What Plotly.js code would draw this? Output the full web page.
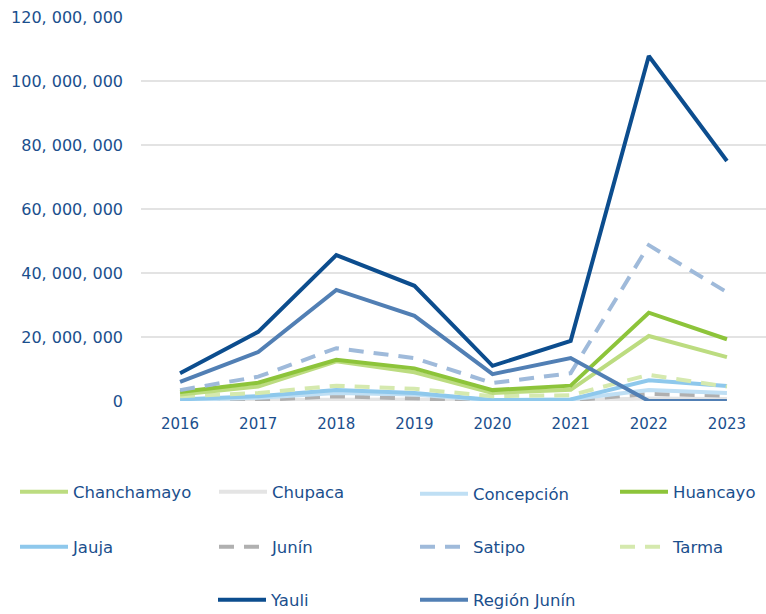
<!DOCTYPE html>
<html>
<head>
<meta charset="utf-8">
<script src="https://cdn.plot.ly/plotly-3.0.1.min.js"></script>
<style>html,body{margin:0;padding:0;background:#fff;}#chart{width:766px;height:614px;}</style>
</head>
<body>
<div id="chart"></div>
<script>
const years = ["2016","2017","2018","2019","2020","2021","2022","2023"];
const chanchamayo = [2000000, 4500000, 12400000, 9000000, 2500000, 3500000, 20300000, 13700000];
const chupaca     = [200000, 300000, 600000, 500000, 100000, 200000, 800000, 600000];
const concepcion  = [300000, 1000000, 2500000, 2000000, 200000, 500000, 3400000, 2500000];
const huancayo    = [2800000, 5700000, 12900000, 10200000, 3400000, 4800000, 27600000, 19300000];
const jauja       = [500000, 1500000, 3400000, 2500000, 300000, 500000, 6500000, 4700000];
const junin       = [200000, 300000, 1500000, 800000, 100000, 200000, 2200000, 1700000];
const satipo      = [3400000, 7600000, 16500000, 13400000, 5600000, 8700000, 48700000, 34000000];
const tarma       = [1500000, 2500000, 4800000, 3800000, 1500000, 1800000, 8200000, 4500000];
const yauli       = [8700000, 21600000, 45600000, 36000000, 11000000, 18800000, 107800000, 75000000];
const regionJunin = [6000000, 15300000, 34700000, 26600000, 8400000, 13400000, 0, 0];

const seriesNames = ["Chanchamayo","Chupaca","Concepción","Huancayo","Jauja","Junín","Satipo","Tarma","Yauli","Región Junín"];
const seriesData = [chanchamayo, chupaca, concepcion, huancayo, jauja, junin, satipo, tarma, yauli, regionJunin];
const yTickVals = [0, 20000000, 40000000, 60000000, 80000000, 100000000, 120000000];
const yTickText = ["0", "20, 000, 000", "40, 000, 000", "60, 000, 000", "80, 000, 000", "100, 000, 000", "120, 000, 000"];

const styles = [
  {color:"#bcdc80", dash:"solid"},
  {color:"#e4e4e4", dash:"solid"},
  {color:"#bfdff4", dash:"solid"},
  {color:"#8dc43a", dash:"solid"},
  {color:"#8ec8ec", dash:"solid"},
  {color:"#b0b0b0", dash:"15px,10px"},
  {color:"#9fbada", dash:"15px,10px"},
  {color:"#d5e9ae", dash:"15px,10px"},
  {color:"#0c4d8e", dash:"solid"},
  {color:"#517fb4", dash:"solid"}
];
// legend slot (line start x, row centre y) in pixels
const legendPos = [
  [20,492],[219,492],[420,494],[620,492],
  [20,547],[219,547],[420,547],[620,547],
  [218,600],[420,600]
];
const legendId = i => i === 0 ? "legend" : "legend" + (i + 1);
const drawOrder = [1,5,2,4,7,0,3,6,9,8];
const traces = [];
drawOrder.forEach(i => {
  traces.push({
    x: years, y: seriesData[i], name: seriesNames[i], type: "scatter", mode: "lines",
    line: {color: styles[i].color, width: 4, dash: styles[i].dash},
    legend: legendId(i), hoverinfo: "skip", cliponaxis: false
  });
});

const txt = "#1b4f8d";
const layout = {
  width: 766, height: 614,
  margin: {l: 141, r: 0, t: 17, b: 213, autoexpand: false},
  paper_bgcolor: "#fff", plot_bgcolor: "#fff",
  font: {family: "DejaVu Sans", size: 15, color: txt},
  showlegend: true,
  xaxis: {type: "category", range: [-0.5, 7.5], showgrid: false, zeroline: false, showline: false,
          automargin: false,
          ticks: "", ticklabelstandoff: 12, tickfont: {size: 15, color: txt}, fixedrange: true},
  yaxis: {range: [0, 120000000], tickvals: yTickVals, ticktext: yTickText, showgrid: true,
          automargin: false,
          gridcolor: "#e3e3e3", gridwidth: 1.5, zeroline: false, showline: false, ticks: "",
          ticklabelstandoff: 17, tickfont: {size: 16, color: txt}, fixedrange: true}
};
legendPos.forEach((p, i) => {
  layout[legendId(i)] = {
    orientation: "v", xref: "container", yref: "container", xanchor: "left", yanchor: "middle",
    x: (p[0] - 5) / 766, y: 1 - p[1] / 614, itemwidth: 48,
    font: {family: "DejaVu Sans", size: 16.5, color: txt}, bgcolor: "rgba(0,0,0,0)"
  };
});
Plotly.newPlot("chart", traces, layout, {displayModeBar: false, staticPlot: true});
</script>
</body>
</html>
